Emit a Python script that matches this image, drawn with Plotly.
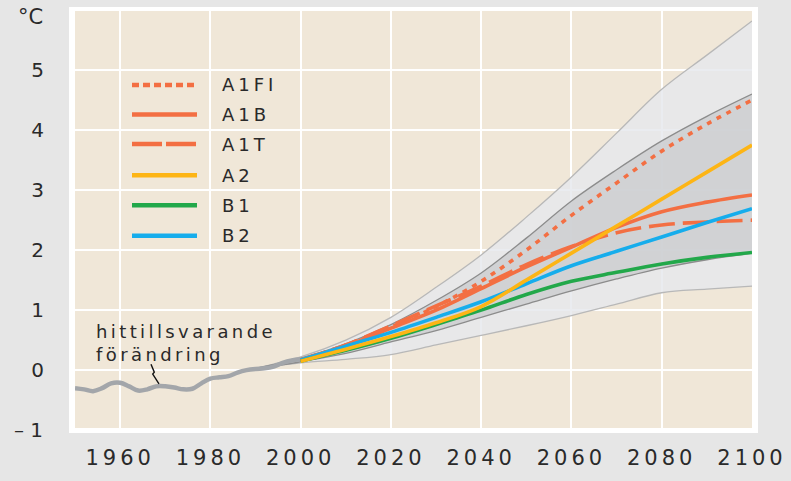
import plotly.graph_objects as go

# ---------------- data ----------------
hist_years = [1950, 1952, 1954, 1956, 1958, 1960, 1962, 1964, 1966, 1968, 1970, 1972, 1974,
              1976, 1978, 1980, 1982, 1984, 1986, 1988, 1990, 1992, 1994, 1996, 1998, 2000]
hist_vals = [-0.30, -0.32, -0.35, -0.30, -0.22, -0.21, -0.27, -0.34, -0.32, -0.27, -0.27, -0.29, -0.32,
             -0.31, -0.22, -0.14, -0.12, -0.10, -0.04, 0.00, 0.02, 0.03, 0.06, 0.12, 0.16, 0.18]

band_years = [1990, 2000, 2010, 2020, 2030, 2040, 2050, 2060, 2070, 2080, 2090, 2100]
outer_upper = [0.03, 0.22, 0.50, 0.88, 1.38, 1.92, 2.55, 3.22, 3.95, 4.68, 5.25, 5.82]
inner_upper = [0.03, 0.20, 0.44, 0.76, 1.16, 1.62, 2.20, 2.82, 3.34, 3.82, 4.23, 4.60]
inner_lower = [0.02, 0.14, 0.28, 0.47, 0.66, 0.88, 1.10, 1.32, 1.52, 1.70, 1.84, 1.95]
outer_lower = [0.02, 0.12, 0.18, 0.26, 0.42, 0.58, 0.74, 0.91, 1.10, 1.29, 1.35, 1.40]

proj_years = [2000, 2010, 2020, 2030, 2040, 2050, 2060, 2070, 2080, 2090, 2100]
a1fi = [0.17, 0.42, 0.72, 1.06, 1.48, 2.00, 2.58, 3.12, 3.65, 4.10, 4.50]
a1b = [0.17, 0.40, 0.70, 1.00, 1.36, 1.72, 2.05, 2.38, 2.64, 2.80, 2.92]
a1t = [0.17, 0.42, 0.74, 1.07, 1.40, 1.76, 2.06, 2.29, 2.42, 2.47, 2.50]
a2 = [0.15, 0.35, 0.56, 0.79, 1.06, 1.50, 1.95, 2.40, 2.85, 3.30, 3.75]
b2 = [0.17, 0.40, 0.63, 0.88, 1.14, 1.44, 1.74, 1.98, 2.22, 2.46, 2.69]
b1 = [0.15, 0.33, 0.53, 0.76, 1.00, 1.26, 1.48, 1.63, 1.77, 1.88, 1.96]

scenario_names = ["A1FI", "A1B", "A1T", "A2", "B1", "B2"]
x_tick_vals = [1960, 1980, 2000, 2020, 2040, 2060, 2080, 2100]
y_tick_vals = [0, 1, 2, 3, 4, 5]

ORANGE = "#f36f43"
YELLOW = "#fdb515"
GREEN = "#22a84a"
BLUE = "#16adec"

styles = {
    "A1FI": dict(color=ORANGE, dash="5px,6px", ldash="7px,4px"),
    "A1B": dict(color=ORANGE, dash="solid", ldash="solid"),
    "A1T": dict(color=ORANGE, dash="26px,8px", ldash="30px,4px"),
    "A2": dict(color=YELLOW, dash="solid", ldash="solid"),
    "B1": dict(color=GREEN, dash="solid", ldash="solid"),
    "B2": dict(color=BLUE, dash="solid", ldash="solid"),
}
values = {"A1FI": a1fi, "A1B": a1b, "A1T": a1t, "A2": a2, "B1": b1, "B2": b2}

FONT = "DejaVu Sans"
TXT = "#2a2a2a"
LEGEND_LS = 4  # letter spacing (px) of legend labels

W, H = 791, 481
ML, MR, MT, MB = 75, 39, 11, 47
PW = W - ML - MR
PH = H - MT - MB


def px_x(px):
    return (px - ML) / PW


def px_y(py):
    return (H - MB - py) / PH


fig = go.Figure()

# bands
fig.add_trace(go.Scatter(x=band_years, y=outer_lower, mode="lines",
                         line=dict(color="#b8b8b8", width=1.3, shape="spline"),
                         hoverinfo="skip", showlegend=False))
fig.add_trace(go.Scatter(x=band_years, y=outer_upper, mode="lines", fill="tonexty",
                         fillcolor="rgba(229,232,237,0.82)",
                         line=dict(color="#b8b8b8", width=1.3, shape="spline"),
                         hoverinfo="skip", showlegend=False))
fig.add_trace(go.Scatter(x=band_years, y=inner_lower, mode="lines",
                         line=dict(color="#8c8c8c", width=1.3, shape="spline"),
                         hoverinfo="skip", showlegend=False))
fig.add_trace(go.Scatter(x=band_years, y=inner_upper, mode="lines", fill="tonexty",
                         fillcolor="rgba(204,205,208,0.82)",
                         line=dict(color="#8c8c8c", width=1.3, shape="spline"),
                         hoverinfo="skip", showlegend=False))

# historical
fig.add_trace(go.Scatter(x=hist_years, y=hist_vals, mode="lines",
                         line=dict(color="#a3a6aa", width=4.5, shape="spline"),
                         hoverinfo="skip", showlegend=False))

# scenarios
for name in ["A1FI", "A1B", "A1T", "B2", "B1", "A2"]:
    st = styles[name]
    fig.add_trace(go.Scatter(x=proj_years, y=values[name], mode="lines", name=name,
                             line=dict(color=st["color"], width=3.6, dash=st["dash"], shape="spline"),
                             showlegend=False))

shapes = []
# white frame and beige plot background
shapes.append(dict(type="rect", xref="paper", yref="paper",
                   x0=px_x(69), x1=px_x(758), y0=px_y(439), y1=px_y(7),
                   fillcolor="white", line=dict(width=0), layer="below"))
shapes.append(dict(type="rect", xref="paper", yref="paper",
                   x0=0, x1=1, y0=0, y1=1,
                   fillcolor="#f0e7d8", line=dict(width=0), layer="below"))

annotations = []
# manual legend
row_y = [86, 116, 146, 177.5, 208, 239]
for name, ry in zip(scenario_names, row_y):
    st = styles[name]
    shapes.append(dict(type="line", xref="paper", yref="paper",
                       x0=px_x(132), x1=px_x(197), y0=px_y(ry), y1=px_y(ry),
                       line=dict(color=st["color"], width=4.5, dash=st["ldash"])))
    # text is centred in its box, so compensate for the added letter spacing
    shift = len(name) * LEGEND_LS / 2
    annotations.append(dict(text=name, xref="paper", yref="paper", x=px_x(220 + shift), y=px_y(ry),
                            xanchor="left", yanchor="middle", showarrow=False,
                            font=dict(family=FONT, size=18, color=TXT)))

# leader zigzag for the annotation
shapes.append(dict(type="path", xref="x", yref="y",
                   path="M 1966.84,0.099 L 1967.57,-0.033 L 1967.22,-0.066 L 1968.61,-0.23",
                   line=dict(color="#111111", width=1.4)))

annotations.append(dict(text="hittillsvarande<br>förändring", xref="paper", yref="paper",
                        x=px_x(94), y=px_y(323), xanchor="left", yanchor="top", align="left",
                        showarrow=False, font=dict(family=FONT, size=18, color=TXT)))
annotations.append(dict(text="°C", xref="paper", yref="paper", x=px_x(45), y=px_y(17),
                        xanchor="right", yanchor="middle", showarrow=False,
                        font=dict(family=FONT, size=21, color=TXT)))
annotations.append(dict(text="– 1", xref="paper", yref="paper", x=px_x(45), y=px_y(436),
                        xanchor="right", yanchor="middle", showarrow=False,
                        font=dict(family=FONT, size=20, color=TXT)))

fig.update_layout(
    width=W, height=H,
    margin=dict(l=ML, r=MR, t=MT, b=MB, pad=0),
    paper_bgcolor="#e6e6e6",
    plot_bgcolor="rgba(0,0,0,0)",
    shapes=shapes,
    annotations=annotations,
    showlegend=False,
    xaxis=dict(range=[1950, 2100], tickvals=x_tick_vals, ticktext=[str(v) for v in x_tick_vals],
               showgrid=True, gridcolor="white", gridwidth=2, zeroline=False, showline=False,
               ticks="", ticklabelstandoff=15,
               tickfont=dict(family=FONT, size=21, color=TXT)),
    yaxis=dict(range=[-0.964, 5.985], tickvals=y_tick_vals, ticktext=[str(v) for v in y_tick_vals],
               showgrid=True, gridcolor="white", gridwidth=2, zeroline=False, showline=False,
               ticks="", ticklabelstandoff=30,
               tickfont=dict(family=FONT, size=20, color=TXT)),
)

post = """
document.body.style.margin = '0';
var gd = document.getElementById('{plot_id}');
gd.querySelectorAll('.xtick text').forEach(function (t) { t.style.letterSpacing = '4px'; });
gd.querySelectorAll('g.annotation').forEach(function (g) {
  var i = parseInt(g.getAttribute('data-index'));
  var t = g.querySelector('text');
  if (!t) return;
  if (i <= 5) t.style.letterSpacing = '%dpx';
  else if (i === 6) t.style.letterSpacing = '3.4px';
});
""" % LEGEND_LS

fig.write_html("out.html", post_script=post, config={"displayModeBar": False})
